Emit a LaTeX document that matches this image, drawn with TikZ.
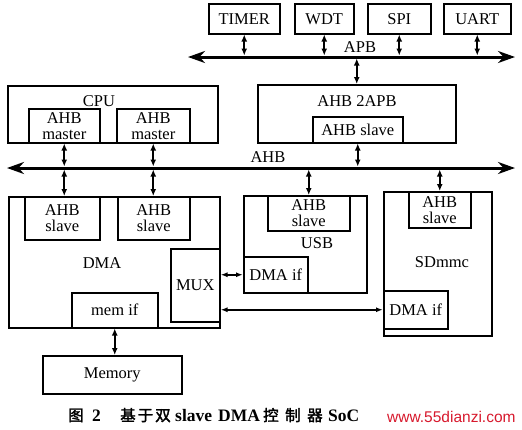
\documentclass[tikz,border=0pt]{standalone}
\usepackage{fontspec}
\setmainfont{Liberation Serif}
\newfontfamily\cjk[FakeBold=2]{Noto Sans CJK SC}
\newfontfamily\wmfont{Liberation Sans}
\usetikzlibrary{arrows.meta}
\definecolor{wmred}{RGB}{215,25,45}
\begin{document}
\begin{tikzpicture}[x=1pt,y=-1pt,
  box/.style={draw, line width=1.5pt, inner sep=0pt, anchor=north west, align=center, font=\fontsize{16.5}{16}\selectfont},
  lbl/.style={font=\fontsize{16.5}{16}\selectfont, inner sep=0pt, align=center},
  bus/.style={line width=3pt, {Stealth[length=17pt,width=12pt]}-{Stealth[length=17pt,width=12pt]}},
  conn/.style={line width=2pt, {Latex[length=7pt,width=6pt]}-{Latex[length=7pt,width=6pt]}},
  hconn/.style={line width=1.5pt, {Latex[length=7pt,width=5pt]}-{Latex[length=7pt,width=5pt]}},
  capcjk/.style={inner sep=0pt, anchor=base west, font=\cjk\fontsize{15.5}{15}\selectfont},
  caplat/.style={inner sep=0pt, anchor=base west, font=\bfseries\fontsize{17.5}{16}\selectfont},
]
\useasboundingbox (0,0) rectangle (522,429);

% APB peripherals
\node[box, minimum width=71pt, minimum height=30pt] (timer) at (208,3) {TIMER};
\node[box, minimum width=59pt, minimum height=30pt] (wdt) at (294,3) {WDT};
\node[box, minimum width=63pt, minimum height=30pt] (spi) at (367,3) {SPI};
\node[box, minimum width=67pt, minimum height=30pt] (uart) at (443,3) {UART};

% buses
\coordinate (apbL) at (188,57);
\coordinate (apbR) at (515,57);
\coordinate (ahbL) at (7,168);
\coordinate (ahbR) at (515,168);
\draw[bus] (apbL) -- (apbR);
\draw[bus] (ahbL) -- (ahbR);
\node[lbl] (apblbl) at (360,47) {APB};
\node[lbl] (ahblbl) at (268,157) {AHB};

% CPU
\node[box, minimum width=210pt, minimum height=57pt] (cpu) at (7,85) {};
\node[lbl] (cpulbl) at (99,101) {CPU};
\node[box, minimum width=71pt, minimum height=34pt] (m1) at (28,108) {AHB\\master};
\node[box, minimum width=73pt, minimum height=34pt] (m2) at (116,108) {AHB\\master};

% AHB2APB
\node[box, minimum width=198pt, minimum height=58pt] (bridge) at (257,84) {};
\node[lbl] (bridgelbl) at (357,101) {AHB 2APB};
\node[box, minimum width=90pt, minimum height=26pt] (bslave) at (312,116) {AHB slave};

% DMA
\node[box, minimum width=211pt, minimum height=131pt] (dma) at (8,196) {};
\node[lbl] (dmalbl) at (102,263) {DMA};
\node[box, minimum width=75pt, minimum height=43pt] (s1) at (24,196) {AHB\\slave};
\node[box, minimum width=72pt, minimum height=43pt] (s2) at (117,196) {AHB\\slave};
\node[box, minimum width=49pt, minimum height=73pt] (mux) at (170,248) {MUX};
\node[box, minimum width=86pt, minimum height=35pt] (memif) at (71,292) {mem if};

% USB
\node[box, minimum width=123pt, minimum height=97pt] (usb) at (243,195) {};
\node[lbl] (usblbl) at (317,243) {USB};
\node[box, minimum width=82pt, minimum height=35pt] (uslave) at (267,195) {AHB\\slave};
\node[box, minimum width=64pt, minimum height=36pt] (udma) at (243,256) {DMA if};

% SDmmc
\node[box, minimum width=108pt, minimum height=144pt] (sd) at (383,191) {};
\node[lbl] (sdlbl) at (442,262) {SDmmc};
\node[box, minimum width=62pt, minimum height=36pt] (sdslave) at (408,191) {AHB\\slave};
\node[box, minimum width=64pt, minimum height=38pt] (sddma) at (383,290) {DMA if};

% Memory
\node[box, minimum width=139pt, minimum height=38pt] (memory) at (42,355) {Memory};

% connectors
\draw[conn, shorten >=1.5pt] (timer.south) -- (timer.south |- apbL);
\draw[conn, shorten >=1.5pt] (wdt.south) -- (wdt.south |- apbL);
\draw[conn, shorten >=1.5pt] (spi.south) -- (spi.south |- apbL);
\draw[conn, shorten >=1.5pt] (uart.south) -- (uart.south |- apbL);
\draw[conn, shorten <=1.5pt] (bridge.north |- apbL) -- (bridge.north);
\draw[conn, shorten >=1.5pt] (m1.south) -- (m1.south |- ahbL);
\draw[conn, shorten >=1.5pt] (m2.south) -- (m2.south |- ahbL);
\draw[conn, shorten >=1.5pt] (bslave.south) -- (bslave.south |- ahbL);
\draw[conn, shorten <=1.5pt] (m1.south |- ahbL) -- (m1.south |- s1.north);
\draw[conn, shorten <=1.5pt] (m2.south |- ahbL) -- (m2.south |- s2.north);
\draw[conn, shorten <=1.5pt] (uslave.north |- ahbL) -- (uslave.north);
\draw[conn, shorten <=1.5pt] (sdslave.north |- ahbL) -- (sdslave.north);
\draw[conn] (memif.south) -- (memif.south |- memory.north);
\draw[hconn] (udma.west -| mux.east) -- (udma.west);
\draw[hconn] (sddma.west -| mux.east) -- (sddma.west);

% caption
\node[capcjk] (c1) at (68,421) {图};
\node[caplat] (c2) at (92,421) {2};
\node[capcjk] (c3) at (120,421) {基\hspace{2pt}于\hspace{2pt}双};
\node[caplat] (c4) at (175,421) {slave};
\node[caplat] (c5) at (218,421) {DMA};
\node[capcjk] (c6) at (263,421) {控\hspace{6.5pt}制\hspace{6.5pt}器};
\node[caplat] (c7) at (328,421) {SoC};
\node[inner sep=0pt, anchor=base west, text=wmred, font=\wmfont\fontsize{15.5}{15}\selectfont] (wm) at (387,422) {www.55dianzi.com};
\end{tikzpicture}
\end{document}
